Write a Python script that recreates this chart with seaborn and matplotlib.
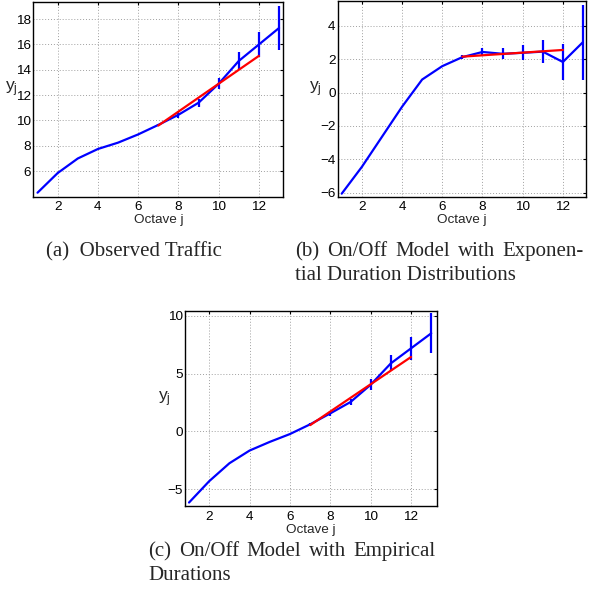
import matplotlib
matplotlib.use('Agg')
import numpy as np
import pandas as pd
import seaborn as sns
import matplotlib.pyplot as plt

# octaves and the ranges that carry error bars / fitted line
octave = list(range(1, 14))
err_octave = list(range(7, 14))
fit_octave = list(range(7, 13))

# (a) observed traffic
obs_y = [4.3, 5.85, 7.0, 7.75, 8.25, 8.9, 9.65, 10.45, 11.4, 12.9, 14.7, 16.0, 17.3]
obs_err = [0.1, 0.22, 0.32, 0.45, 0.67, 1.0, 1.75]
obs_fit = [9.6, 10.7, 11.8, 12.9, 14.0, 15.1]

# (b) on/off model, exponential durations
exp_y = [-6.05, -4.45, -2.65, -0.85, 0.78, 1.58, 2.12, 2.43, 2.32, 2.38, 2.45, 1.83, 3.02]
exp_err = [0.12, 0.25, 0.33, 0.45, 0.68, 1.1, 2.25]
exp_fit = [2.15, 2.23, 2.31, 2.39, 2.47, 2.55]

# (c) on/off model, empirical durations
emp_y = [-6.15, -4.3, -2.75, -1.65, -0.9, -0.22, 0.62, 1.57, 2.55, 4.05, 5.9, 7.2, 8.5]
emp_err = [0.15, 0.2, 0.3, 0.5, 0.68, 1.0, 1.73]
emp_fit = [0.55, 1.73, 2.91, 4.09, 5.27, 6.45]

x_ticks = [2, 4, 6, 8, 10, 12]
y_ticks_a = [6, 8, 10, 12, 14, 16, 18]
y_ticks_b = [-6, -4, -2, 0, 2, 4]
y_ticks_c = [-5, 0, 5, 10]

W, H = 589, 596
sns.set_style('white')
plt.rcParams['font.family'] = ['Liberation Sans', 'DejaVu Sans']
plt.rcParams['mathtext.fontset'] = 'custom'
plt.rcParams['mathtext.rm'] = 'Liberation Sans'
plt.rcParams['mathtext.it'] = 'Liberation Sans'

fig = plt.figure(figsize=(W / 100, H / 100), dpi=100)


def px_axes(left, top, right, bottom):
    return fig.add_axes([left / W, 1 - bottom / H, (right - left) / W, (bottom - top) / H])


def panel(ax, y, err, fit, xlim, ylim, yticks, lab_xy):
    df = pd.DataFrame({'j': octave, 'y': y})
    sns.lineplot(data=df, x='j', y='y', ax=ax, color='#0000ff', lw=1.6)
    e = pd.DataFrame({'j': err_octave, 'y': y[6:], 'e': err})
    ax.vlines(e['j'], e['y'] - e['e'], e['y'] + e['e'], color='#0000ff', lw=1.6)
    f = pd.DataFrame({'j': fit_octave, 'y': fit})
    sns.lineplot(data=f, x='j', y='y', ax=ax, color='#ff0000', lw=1.6, zorder=3)
    ax.set_xlim(*xlim)
    ax.set_ylim(*ylim)
    ax.set_xticks(x_ticks)
    ax.set_yticks(yticks)
    ax.grid(True, color='#a0a0a0', linestyle=(0, (1, 2)), lw=0.7)
    ax.tick_params(direction='in', length=2.5, width=0.8, top=True, right=True,
                   labelsize=9.7, colors='black')
    ax.tick_params(axis='x', pad=3.5)
    ax.tick_params(axis='y', pad=1.5)
    for s in ax.spines.values():
        s.set_color('black')
        s.set_linewidth(1.0)
    ax.set_xlabel('Octave j', fontsize=9.7, labelpad=0.5)
    ax.set_ylabel(r'$\mathregular{y_j}$', fontsize=12.5, rotation=0, ha='center', va='center')
    ax.yaxis.set_label_coords(*lab_xy)


ax_a = px_axes(33.3, 2, 283.3, 196.5)
panel(ax_a, obs_y, obs_err, obs_fit, (0.79, 13.21), (4.0, 19.35), y_ticks_a, (-0.088, 0.55))

ax_b = px_axes(337.7, 1, 586, 196.5)
panel(ax_b, exp_y, exp_err, exp_fit, (0.8, 13.15), (-6.22, 5.48), y_ticks_b, (-0.09, 0.55))

ax_c = px_axes(185, 311, 437.3, 506)
panel(ax_c, emp_y, emp_err, emp_fit, (0.8, 13.3), (-6.45, 10.43), y_ticks_c, (-0.082, 0.55))

# captions (serif, justified like the LaTeX subcaptions)
cap = dict(family=['Liberation Serif', 'DejaVu Serif'], fontsize=15, va='baseline')
renderer = fig.canvas.get_renderer()


def justified(words, x0, x1, ybase):
    texts = [fig.text(0, 1 - ybase / H, w, ha='left', **cap) for w in words]
    widths = [t.get_window_extent(renderer).width for t in texts]
    gap = (x1 - x0 - sum(widths)) / (len(words) - 1)
    x = x0
    for t, w in zip(texts, widths):
        t.set_x(x / W)
        x += w + gap


def plain(line, x0, ybase, ha='left'):
    fig.text(x0 / W, 1 - ybase / H, line, ha=ha, **cap)


plain('(a)  Observed Traffic', 134, 256.5, ha='center')
justified(['(b)', 'On/Off', 'Model', 'with', 'Exponen-'], 295, 584, 256.5)
plain('tial Duration Distributions', 295, 280)
justified(['(c)', 'On/Off', 'Model', 'with', 'Empirical'], 148, 436, 556)
plain('Durations', 148, 579.5)

fig.savefig('out.png', dpi=100)
